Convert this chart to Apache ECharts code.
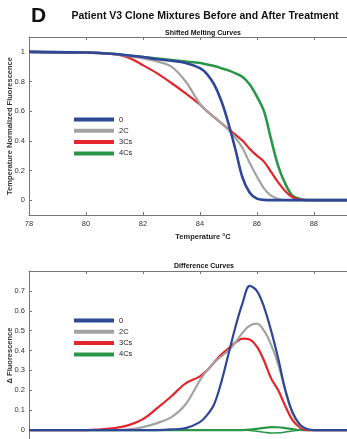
<!DOCTYPE html>
<html><head><meta charset="utf-8">
<script src="https://cdn.jsdelivr.net/npm/echarts@6/dist/echarts.min.js"></script>
<style>html,body{margin:0;padding:0;background:#fff}#c{width:347px;height:439px}</style>
</head><body><div id="c"></div>
<script>
var temps = [78, 80, 81, 81.5, 82, 82.5, 83, 83.5, 84, 84.25, 84.5, 84.75, 85, 85.25, 85.5, 85.75, 86, 86.25, 86.5, 86.75, 87, 87.25, 87.5, 87.75, 88, 89.2];
var seriesNames = ['0', '2C', '3Cs', '4Cs'];
// Shifted melting curves
var melt0   = [1, 0.995, 0.985, 0.975, 0.965, 0.95, 0.94, 0.925, 0.89, 0.85, 0.78, 0.67, 0.52, 0.34, 0.15, 0.05, 0.01, 0.002, 0, 0, 0, 0, 0, 0, 0, 0];
var melt2C  = [1, 0.995, 0.985, 0.97, 0.955, 0.935, 0.9, 0.8, 0.65, 0.6, 0.56, 0.52, 0.475, 0.42, 0.35, 0.25, 0.16, 0.08, 0.03, 0.008, 0, 0, 0, 0, 0, 0];
var melt3Cs = [1, 0.995, 0.985, 0.96, 0.91, 0.855, 0.79, 0.72, 0.645, 0.6, 0.56, 0.52, 0.48, 0.44, 0.4, 0.345, 0.3, 0.26, 0.19, 0.12, 0.06, 0.02, 0.005, 0, 0, 0];
var melt4Cs = [1, 0.995, 0.985, 0.975, 0.965, 0.955, 0.945, 0.935, 0.925, 0.915, 0.905, 0.89, 0.875, 0.855, 0.83, 0.78, 0.7, 0.6, 0.41, 0.23, 0.11, 0.03, 0.008, 0, 0, 0];
// Difference curves
var diff0   = [0, 0, 0, 0, 0, 0, 0.003, 0.01, 0.04, 0.075, 0.13, 0.24, 0.38, 0.52, 0.64, 0.725, 0.7, 0.62, 0.5, 0.36, 0.2, 0.09, 0.03, 0.005, 0, 0];
var diff2C  = [0, 0, 0, 0.003, 0.015, 0.035, 0.065, 0.13, 0.25, 0.3, 0.34, 0.37, 0.4, 0.44, 0.49, 0.525, 0.535, 0.5, 0.43, 0.33, 0.2, 0.085, 0.025, 0.005, 0, 0];
var diff3Cs = [0, 0, 0.01, 0.025, 0.055, 0.11, 0.17, 0.235, 0.27, 0.3, 0.34, 0.38, 0.41, 0.44, 0.46, 0.455, 0.42, 0.35, 0.26, 0.2, 0.12, 0.05, 0.015, 0, 0, 0];
var diff4CsA = [0, 0, 0, 0, 0, 0, 0, 0, 0, 0, 0, 0, 0, 0, 0, 0.002, 0.006, 0.011, 0.015, 0.014, 0.01, 0.005, 0.001, 0, 0, 0];
var diff4CsB = [0, 0, 0, 0, 0, 0, 0, 0, 0, 0, 0, 0, 0, 0, 0, -0.002, -0.006, -0.011, -0.015, -0.014, -0.01, -0.005, -0.001, 0, 0, 0];
var xTicks = [78, 80, 82, 84, 86, 88];
var yTicksTop = [0, 0.2, 0.4, 0.6, 0.8, 1];
var yTicksBot = [0, 0.1, 0.2, 0.3, 0.4, 0.5, 0.6, 0.7];

var colors = {'0': '#2f4797', '2C': '#a3a3a3', '3Cs': '#e2262b', '4Cs': '#2a9748'};
function pairs(ys) { return temps.map(function (t, i) { return [t, ys[i]]; }); }

var axisCol = '#777';
var font = 'Liberation Sans, Arial, sans-serif';
function xAx(gi, pos, showLabel) {
  return {
    type: 'value', gridIndex: gi, position: pos, min: 78, max: 89.2, interval: 2,
    axisLine: {show: true, onZero: false, lineStyle: {color: axisCol, width: 1}},
    axisTick: {show: true, inside: true, length: 3, lineStyle: {color: axisCol}},
    axisLabel: {show: showLabel, color: '#333', fontSize: 7.5, fontFamily: font, margin: 5,
      formatter: function (v) { return xTicks.indexOf(v) >= 0 ? String(v) : ''; }},
    splitLine: {show: false}
  };
}
function yAx(gi, mn, mx, ticks, name, gap) {
  return {
    type: 'value', gridIndex: gi, min: mn, max: mx,
    axisLine: {show: true, onZero: false, lineStyle: {color: axisCol, width: 1}},
    axisTick: {show: true, inside: true, length: 3, customValues: ticks, lineStyle: {color: axisCol}},
    axisLabel: {color: '#333', fontSize: 7.5, fontFamily: font, margin: 4, customValues: ticks,
      formatter: function (v) { return String(+v.toFixed(2)); }},
    splitLine: {show: false},
    name: name, nameLocation: 'middle', nameGap: gap, nameMoveOverlap: false,
    nameTextStyle: {fontSize: 7.5, fontWeight: 'bold', color: '#333', fontFamily: font}
  };
}

var series = [];
var melts = [melt0, melt2C, melt3Cs, melt4Cs];
var widthsTop = [2.6, 2.2, 2.2, 2.6];
seriesNames.forEach(function (n, i) {
  series.push({name: n, type: 'line', xAxisIndex: 0, yAxisIndex: 0, data: pairs(melts[i]),
    smooth: 0.35, showSymbol: false, lineStyle: {color: colors[n], width: widthsTop[i]}, itemStyle: {color: colors[n]}, z: 10 - i});
});
var diffs = [diff0, diff2C, diff3Cs, diff4CsA];
seriesNames.forEach(function (n, i) {
  series.push({name: n, type: 'line', xAxisIndex: 2, yAxisIndex: 1, data: pairs(diffs[i]),
    smooth: 0.35, showSymbol: false, lineStyle: {color: colors[n], width: 2.2}, itemStyle: {color: colors[n]}, z: 10 - i});
});
series.push({name: '4Cs', type: 'line', xAxisIndex: 2, yAxisIndex: 1, data: pairs(diff4CsB),
  smooth: 0.35, showSymbol: false, lineStyle: {color: colors['4Cs'], width: 1.5}, itemStyle: {color: colors['4Cs']}});

function legend(top) {
  return {
    data: seriesNames, orient: 'vertical', left: 69, top: top, icon: 'rect',
    itemWidth: 40, itemHeight: 4, itemGap: 2.3, selectedMode: false,
    textStyle: {fontSize: 7.5, color: '#222', fontFamily: font, lineHeight: 9}
  };
}

var option = {
  animation: false,
  backgroundColor: '#fff',
  title: [
    {text: 'D', left: 26, top: 1, textStyle: {fontSize: 21, fontWeight: 'bold', color: '#111', fontFamily: font}},
    {text: 'Patient V3 Clone Mixtures Before and After Treatment', left: 200, top: 6, textAlign: 'center',
      textStyle: {fontSize: 10.5, fontWeight: 'bold', color: '#111', fontFamily: font}},
    {text: 'Shifted Melting Curves', left: 198, top: 25, textAlign: 'center',
      textStyle: {fontSize: 7, fontWeight: 'bold', color: '#111', fontFamily: font}},
    {text: 'Temperature °C', left: 198, top: 228, textAlign: 'center',
      textStyle: {fontSize: 7.5, fontWeight: 'bold', color: '#222', fontFamily: font}},
    {text: 'Difference Curves', left: 199, top: 258, textAlign: 'center',
      textStyle: {fontSize: 7, fontWeight: 'bold', color: '#111', fontFamily: font}}
  ],
  legend: [legend(110), legend(311)],
  grid: [
    {left: 29, top: 37, width: 319, height: 178, outerBoundsMode: 'none', containLabel: false},
    {left: 29, top: 271, width: 319, height: 169, outerBoundsMode: 'none', containLabel: false}
  ],
  xAxis: [
    xAx(0, 'bottom', true),
    xAx(0, 'top', false),
    xAx(1, 'top', false)
  ],
  yAxis: [
    yAx(0, -0.1, 1.1, yTicksTop, 'Temperature Normalized Fluorescence', 15),
    yAx(1, -0.05, 0.8, yTicksBot, 'Δ Fluorescence', 15)
  ],
  series: series
};
var chart = echarts.init(document.getElementById('c'), null, {renderer: 'canvas'});
chart.setOption(option);
</script></body></html>
